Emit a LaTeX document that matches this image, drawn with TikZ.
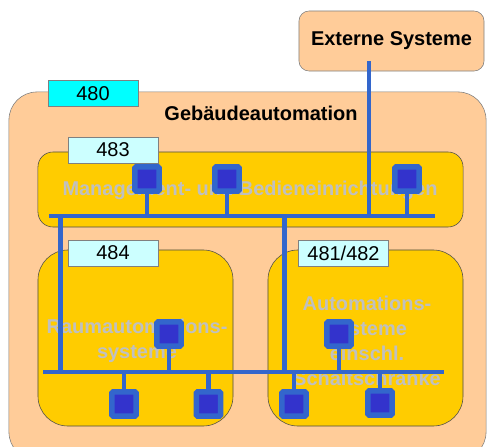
\documentclass[tikz,border=0pt]{standalone}
\usepackage{fontspec}
\setmainfont{Liberation Sans}
\usetikzlibrary{positioning}

\definecolor{peach}{RGB}{255,204,153}
\definecolor{gold}{RGB}{255,204,0}
\definecolor{aqua}{RGB}{0,255,255}
\definecolor{paleaqua}{RGB}{204,255,255}
\definecolor{busblue}{RGB}{51,102,204}
\definecolor{devblue}{RGB}{51,51,204}
\definecolor{ghost}{RGB}{192,192,192}

\begin{document}
\begin{tikzpicture}[x=0.025cm,y=-0.025cm]
	\tikzstyle{area}=[draw=black!50,fill=peach,inner sep=0pt]
	\tikzstyle{sub}=[draw=black!70,fill=gold,inner sep=0pt,minimum height=4.4cm,minimum width=4.875cm,rounded corners=0.75cm]
	\tikzstyle{tag}=[draw=black!50,fill=paleaqua,inner sep=0pt,minimum width=2.25cm,minimum height=0.65cm,font=\fontsize{14.2}{16}\selectfont]
	\tikzstyle{title}=[font=\fontsize{14.2}{16}\selectfont\bfseries]
	\tikzstyle{faded}=[text=ghost,align=center,font=\fontsize{14.2}{17.8}\selectfont\bfseries]
	\tikzstyle{device}=[draw=busblue,fill=devblue,line width=3.9pt,minimum size=17.4pt,inner sep=0pt,rounded corners=1pt]
	\tikzstyle{bus}=[busblue,line width=3.5pt]
	\useasboundingbox (0,0) rectangle (487,447);

	% outer areas
	\node[area,rounded corners=0.7cm,minimum width=11.925cm,minimum height=9.2cm] (ga) at (247.5,276) {};
	\node[area,rounded corners=0.25cm,minimum width=4.625cm,minimum height=1.5cm] (ext) at (391.5,41) {};
	\node[title] at (ext) {Externe Systeme};
	\node[title] (gat) at (261,113) {Gebäudeautomation};

	% sub areas
	\node[sub,minimum width=10.625cm,minimum height=1.875cm,rounded corners=0.375cm] (mgmt) at (250.5,189.5) {};
	\node[sub] (raum) at (135.5,338) {};
	\node[sub] (auto) at (365.5,338) {};

	% number tags
	\node[tag,fill=aqua] (t480) at (93,93.5) {480};
	\node[tag] (t483) at (113,150) {483};
	\node[tag] (t484) at (113,253) {484};
	\node[tag] (t481) at (343.5,253) {481/482};

	\node[faded] at (250,190) {Management- und Bedieneinrichtungen};
	\node[faded] at (137,341) {Raumautomations-\\systeme};
	\node[faded] at (367,341) {Automations-\\systeme\\einschl.\\Schaltschränke};

	% devices
	\node[device] (1) at (147,179) {};
	\node[device] (2) at (227,179) {};
	\node[device] (3) at (407,179) {};
	\node[device] (4) at (169,334) {};
	\node[device] (5) at (339,334) {};
	\node[device] (6) at (124,404) {};
	\node[device] (7) at (208.5,404) {};
	\node[device] (8) at (294,404) {};
	\node[device] (9) at (380,403) {};

	% buses
	\coordinate (b1) at (49,216);
	\coordinate (b2) at (435,216);
	\coordinate (c1) at (43,372);
	\coordinate (c2) at (444,372);
	\coordinate (v1) at (60.5,216);
	\coordinate (v2) at (284.5,216);
	\coordinate (e) at (369,61);
	\draw[bus] (b1) -- (b2);
	\draw[bus] (c1) -- (c2);
	\draw[bus] (v1) -- (v1 |- c1);
	\draw[bus] (v2) -- (v2 |- c1);
	\draw[bus] (e) -- (e |- b1);
	\draw[bus] (1.south) -- (1 |- b1);
	\draw[bus] (2.south) -- (2 |- b1);
	\draw[bus] (3.south) -- (3 |- b1);
	\draw[bus] (4.south) -- (4 |- c1);
	\draw[bus] (5.south) -- (5 |- c1);
	\draw[bus] (6.north) -- (6 |- c1);
	\draw[bus] (7.north) -- (7 |- c1);
	\draw[bus] (8.north) -- (8 |- c1);
	\draw[bus] (9.north) -- (9 |- c1);
\end{tikzpicture}
\end{document}
